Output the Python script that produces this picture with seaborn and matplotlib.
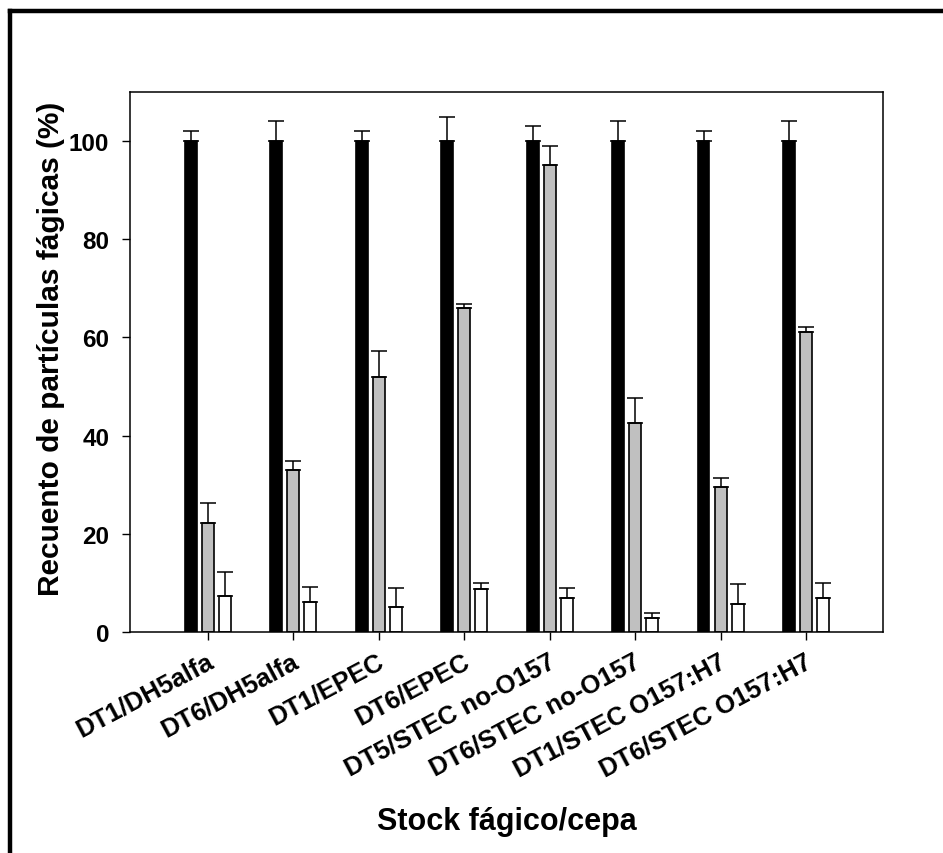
import matplotlib
matplotlib.use("Agg")
import matplotlib.pyplot as plt
import matplotlib.transforms as mtransforms
from matplotlib.lines import Line2D
import seaborn as sns
import pandas as pd
import numpy as np

categories = ["DT1/DH5alfa", "DT6/DH5alfa", "DT1/EPEC", "DT6/EPEC",
              "DT5/STEC no-O157", "DT6/STEC no-O157", "DT1/STEC O157:H7", "DT6/STEC O157:H7"]
series_names = ["A", "B", "C"]
values_black = [100, 100, 100, 100, 100, 100, 100, 100]
errors_black = [2, 4, 2, 5, 3, 4, 2, 4]
values_gray = [22.2, 32.9, 52.0, 65.9, 95.2, 42.6, 29.5, 61.2]
errors_gray = [4.1, 2.0, 5.2, 1.0, 3.9, 5.0, 1.9, 1.0]
values_white = [7.3, 6.2, 5.0, 8.7, 6.9, 2.8, 5.7, 6.9]
errors_white = [5.0, 2.9, 4.0, 1.2, 2.0, 1.0, 4.0, 3.0]
yticks = [0, 20, 40, 60, 80, 100]

sns.set_theme(style="white")
plt.rcParams["font.family"] = ["Liberation Sans", "DejaVu Sans"]
plt.rcParams["font.weight"] = "bold"
plt.rcParams["axes.labelweight"] = "bold"
for k in ["text.color", "axes.labelcolor", "xtick.color", "ytick.color", "axes.edgecolor"]:
    plt.rcParams[k] = "black"

df = pd.DataFrame({
    "cat": categories * 3,
    "serie": [series_names[0]] * 8 + [series_names[1]] * 8 + [series_names[2]] * 8,
    "val": values_black + values_gray + values_white,
})
errs = {series_names[0]: errors_black, series_names[1]: errors_gray, series_names[2]: errors_white}
vals = {series_names[0]: values_black, series_names[1]: values_gray, series_names[2]: values_white}

fig = plt.figure(figsize=(9.43, 8.54), dpi=100)
ax = fig.add_axes([130 / 943, 1 - 633 / 854, (883 - 130) / 943, (633 - 93) / 854])

palette = {series_names[0]: "#000000", series_names[1]: "#C0C0C0", series_names[2]: "#FFFFFF"}
sns.barplot(data=df, x="cat", y="val", hue="serie", order=categories, hue_order=series_names,
            palette=palette, width=0.6, gap=0.3, errorbar=None, edgecolor="black",
            linewidth=1.2, saturation=1, legend=False, ax=ax)

for cont, name in zip(ax.containers, series_names):
    xs = [p.get_x() + p.get_width() / 2 for p in cont.patches]
    ys = vals[name]
    e = errs[name]
    ax.errorbar(xs, ys, yerr=[np.zeros(len(e)), e], fmt="none", ecolor="black",
                elinewidth=1.1, capsize=5.8, capthick=1.1, zorder=1)

ax.set_xlim(-0.91, 7.90)
ax.set_ylim(0, 110)

ax.tick_params(axis="both", which="major", direction="out", length=6, width=1,
               color="black", bottom=True, left=True, top=False, right=False)
ax.tick_params(axis="y", pad=9, labelsize=17.5)
ax.tick_params(axis="x", pad=6, labelsize=18.5)

ax.set_yticks(yticks)
ax.set_yticklabels([str(t) for t in yticks], fontsize=17.5, fontweight="bold")
ax.set_xticks(range(len(categories)))
ax.set_xticklabels(categories, rotation=28, ha="right", va="top", rotation_mode="anchor",
                   fontsize=18.5, fontweight="bold")
offset = mtransforms.ScaledTranslation(-2 / 100, 0, fig.dpi_scale_trans)
for lbl in ax.get_xticklabels():
    lbl.set_transform(lbl.get_transform() + offset)

for s in ax.spines.values():
    s.set_visible(True)
    s.set_color("black")
    s.set_linewidth(1.1)

ax.set_xlabel("Stock fágico/cepa", fontsize=22, fontweight="bold", labelpad=0)
ax.xaxis.set_label_coords(0.5, (633 - 822) / 540, transform=ax.transAxes)
ax.xaxis.label.set_va("center")
ax.set_ylabel("Recuento de partículas fágicas (%)", fontsize=21.5, fontweight="bold")
ax.yaxis.set_label_coords((51 - 130) / 753, (633 - 349) / 540, transform=ax.transAxes)
ax.yaxis.label.set_va("center")

# figure frame (left and top)
fig.add_artist(Line2D([10 / 943, 10 / 943], [0, 1 - 12 / 854], transform=fig.transFigure,
                      color="black", linewidth=3.2, solid_capstyle="projecting"))
fig.add_artist(Line2D([10 / 943, 1], [1 - 12 / 854, 1 - 12 / 854], transform=fig.transFigure,
                      color="black", linewidth=3.2, solid_capstyle="projecting"))

fig.savefig("out.png", dpi=100, facecolor="white")
